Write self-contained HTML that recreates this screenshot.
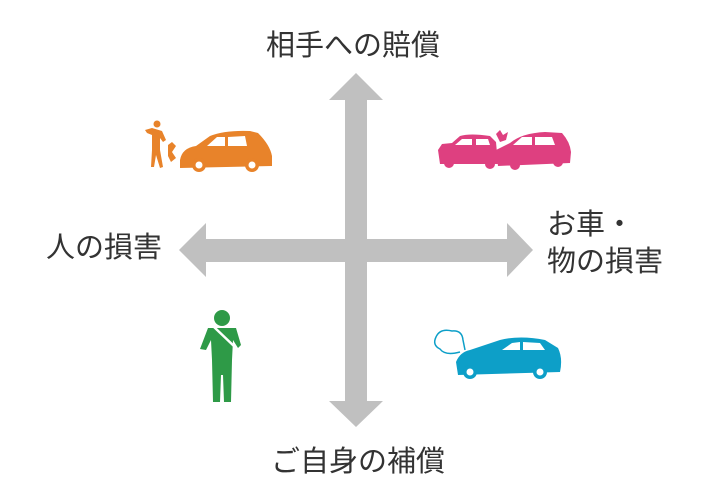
<!DOCTYPE html>
<html><head><meta charset="utf-8"><style>
body{margin:0;width:710px;height:504px;background:#fff;position:relative;overflow:hidden;font-family:"Liberation Sans","Noto Sans CJK JP",sans-serif;color:#333}
.t{position:absolute;font-size:29px;line-height:32px;white-space:nowrap}
</style></head><body>
<svg width="710" height="504" style="position:absolute;left:0;top:0">
<g fill="#c0c0c0">
<polygon points="356,73 383,100 367,100 367,239 507,239 507,223 533,250 507,277 507,262 367,262 367,401 383,401 356,427 329,401 345,401 345,262 206,262 206,277 179,250 206,223 206,239 345,239 345,100 329,100"/>
</g>
<g fill="#e8832a">
<path d="M180,160 Q182,148 196,146 L210,136 Q225,130 250,131 L258,133 Q270,145 272,156 L272,166 L180,168 Z"/>
<circle cx="199" cy="165" r="7"/><circle cx="252" cy="165" r="7"/>
<circle cx="157" cy="124" r="3.5"/>
<path d="M145,130 L152,128 L162,131 L166,140 L163,142 L160,138 L160,150 L163,167 L160,168 L156,155 L154,167 L151,167 L152,150 L152,135 L147,133 Z"/>
<path d="M168,145 L172,142 L176,146 L172,152 L176,158 L171,162 L168,156 Z"/>
</g>
<g fill="#fff"><circle cx="199" cy="165" r="3.5"/><circle cx="252" cy="165" r="3.5"/><path d="M207,146 L217,137 L225,137 L225,146 Z M228,137 L245,136 L247,146 L228,146 Z"/></g>
<g fill="#de4080">
<path d="M438,150 L442,144 L452,143 L460,136 Q470,133 490,136 L496,142 L498,164 L440,164 Z"/>
<path d="M496,150 L510,143 Q522,133 545,132 L562,133 Q570,142 571,152 L570,163 L498,166 Z"/>
<circle cx="449" cy="163" r="5"/><circle cx="490" cy="164" r="5"/><circle cx="515" cy="165" r="5"/><circle cx="558" cy="162" r="5"/>
<path d="M496,134 L500,130 L503,135 L508,132 L506,140 L500,142 Z"/>
</g>
<g fill="#fff"><path d="M455,145 L462,139 L472,139 L472,145 Z M476,139 L488,139 L490,145 L476,145 Z M513,145 L522,137 L532,137 L532,145 Z M535,137 L552,137 L555,145 L535,145 Z"/></g>
<g fill="#2e9a47">
<circle cx="222" cy="318" r="8"/>
<path d="M208,328 L236,328 L241,345 L238,348 L233,340 L232,360 L231,402 L224,402 L223,375 L221,375 L220,402 L213,402 L212,360 L211,340 L206,350 L200,349 Z"/>
</g>
<path d="M214,327 L236,348" stroke="#fff" stroke-width="2.5"/>
<g fill="#0d9fc8">
<path d="M456,362 Q460,352 470,350 L500,340 Q520,335 545,340 L558,348 Q563,358 560,372 L458,375 Z"/>
<circle cx="470" cy="372" r="7"/><circle cx="540" cy="372" r="7"/>
</g>
<g fill="#fff"><circle cx="470" cy="372" r="3.5"/><circle cx="540" cy="372" r="3.5"/><path d="M502,350 L512,343 L520,342 L520,350 Z M523,342 L540,343 L545,350 L523,350 Z"/></g>
<path d="M460,352 Q445,356 440,349 Q432,345 436,337 Q440,328 452,331 Q462,330 463,340 L465,350" fill="none" stroke="#0d9fc8" stroke-width="1.5"/>
</svg>
<div class="t" style="left:266px;top:30px">相手への賠償</div>
<div class="t" style="left:46px;top:232px">人の損害</div>
<div class="t" style="left:547px;top:209px">お車・</div>
<div class="t" style="left:547px;top:246px">物の損害</div>
<div class="t" style="left:271px;top:446px">ご自身の補償</div>
</body></html>
